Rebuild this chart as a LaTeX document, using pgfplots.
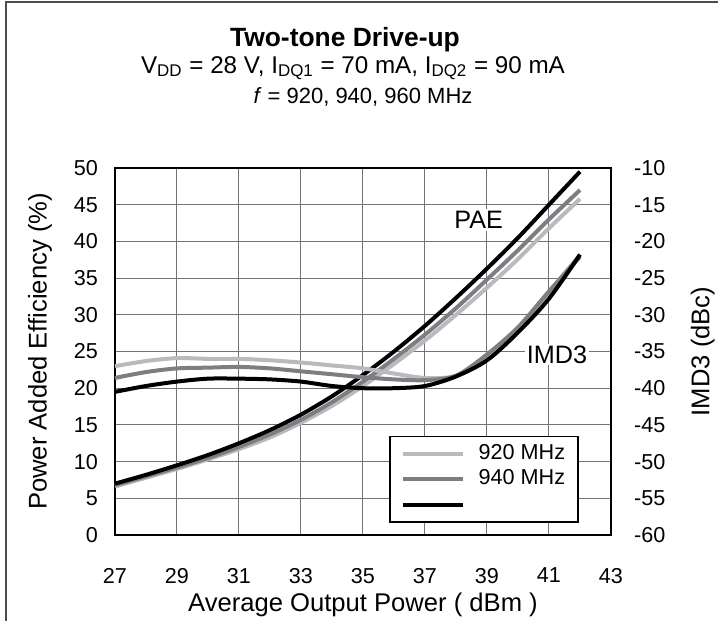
\documentclass[border=0pt]{standalone}
\usepackage{fontspec}
\setmainfont{Liberation Sans}
\usepackage{pgfplots}
\pgfplotsset{compat=1.18}

\definecolor{c920}{RGB}{186,186,190}
\definecolor{c940}{RGB}{126,126,130}
\definecolor{c960}{RGB}{0,0,0}
\newcommand{\fs}{\fontsize{10.8}{13}\selectfont}
\newcommand{\fl}{\fontsize{12.8}{15}\selectfont}

\begin{document}
\begin{tikzpicture}
\useasboundingbox (-57.5pt,-43pt) rectangle (301.5pt,267.5pt);
% outer frame (left and top edges only)
\draw[black!70, line width=0.8pt] (-54.5pt,-43pt) -- (-54.5pt,266.5pt) -- (301.5pt,266.5pt);

\begin{axis}[
    at={(0pt,0pt)}, anchor=south west,
    scale only axis,
    width=248pt, height=183.5pt,
    xmin=27, xmax=43, ymin=0, ymax=50,
    xtick={27,29,...,43}, ytick={0,5,...,50},
    major tick length=0pt,
    grid=major,
    grid style={black!55, line width=0.5pt},
    axis line style={line width=1.1pt},
    /pgf/number format/assume math mode=true,
    tick label style={font=\fs},
    xticklabel style={yshift=-13pt},
    yticklabel style={xshift=-5pt},
    xlabel={Average Output Power ( dBm )},
    ylabel={Power Added Efficiency (\%)},
    label style={font=\fl},
    xlabel style={at={(axis description cs:0.5,-0.19)}, anchor=center},
    ylabel style={at={(axis description cs:-0.151,0.5)}, anchor=center},
    legend style={at={(rel axis cs:0.552,0.0327)}, anchor=south west,
        draw=black, line width=0.9pt, font=\fs, fill=white,
        inner xsep=5.5pt, inner ysep=2.4pt, row sep=0.25pt,
        nodes={inner xsep=1pt, inner ysep=1pt, text height=8pt, text depth=2.5pt},
        /tikz/every odd column/.append style={column sep=6pt}},
    legend cell align=left,
    legend image code/.code={\draw[#1, line width=2pt] (0pt,0pt) -- (30pt,0pt);},
]
\addplot[c920, line width=2pt, smooth] coordinates {
(27,6.6) (28,7.8) (29,9.0) (30,10.3) (31,11.7) (32,13.3) (33,15.3) (34,17.6)
(35,20.3) (36,23.3) (37,26.5) (38,30.0) (39,33.7) (40,37.6) (41,41.8) (42,45.8)};
\addlegendentry{920 MHz}
\addplot[c940, line width=2pt, smooth] coordinates {
(27,6.8) (28,8.0) (29,9.2) (30,10.5) (31,12.0) (32,13.7) (33,15.7) (34,18.1)
(35,20.9) (36,24.0) (37,27.3) (38,30.9) (39,34.8) (40,38.8) (41,43.0) (42,47.0)};
\addlegendentry{940 MHz}
\addplot[c960, line width=2pt, smooth] coordinates {
(27,7.0) (28,8.2) (29,9.5) (30,10.9) (31,12.5) (32,14.3) (33,16.4) (34,18.9)
(35,21.8) (36,25.0) (37,28.5) (38,32.3) (39,36.3) (40,40.5) (41,45.0) (42,49.5)};
\addlegendentry{\phantom{960 MHz}}
\node[fill=white, inner sep=1pt, font=\fontsize{12.6}{15}\selectfont] at (axis cs:38.73,42.9) {PAE};
\end{axis}

\begin{axis}[
    at={(0pt,0pt)}, anchor=south west,
    scale only axis,
    width=248pt, height=183.5pt,
    xmin=27, xmax=43, ymin=-60, ymax=-10,
    ytick={-60,-55,...,-10},
    axis x line=none,
    axis y line*=right,
    major tick length=0pt,
    axis line style={line width=1.1pt},
    /pgf/number format/assume math mode=true,
    tick label style={font=\fs},
    yticklabel style={xshift=8pt},
    ylabel={IMD3 (dBc)},
    label style={font=\fl},
    ylabel style={at={(axis description cs:1.185,0.5)}, anchor=center},
]
\addplot[c920, line width=2pt, smooth] coordinates {
(27,-37.0) (28,-36.3) (29,-35.9) (30,-36.0) (31,-36.0) (32,-36.2) (33,-36.5) (34,-36.9)
(35,-37.3) (36,-38.0) (37,-38.6) (38,-38.3) (39,-35.6) (40,-32.2) (41,-26.9) (42,-21.8)};
\addplot[c940, line width=2pt, smooth] coordinates {
(27,-38.6) (28,-37.8) (29,-37.3) (30,-37.2) (31,-37.1) (32,-37.3) (33,-37.7) (34,-38.1)
(35,-38.5) (36,-38.8) (37,-38.9) (38,-38.3) (39,-35.4) (40,-31.7) (41,-26.8) (42,-22.1)};
\addplot[c960, line width=2pt, smooth] coordinates {
(27,-40.5) (28,-39.7) (29,-39.1) (30,-38.7) (31,-38.7) (32,-38.8) (33,-39.1) (34,-39.7)
(35,-40.0) (36,-40.0) (37,-39.7) (38,-38.4) (39,-36.2) (40,-32.4) (41,-27.8) (42,-21.8)};
\node[fill=white, inner sep=1pt, font=\fontsize{12.6}{15}\selectfont] at (axis cs:41.26,-35.4) {IMD3};
\end{axis}

\node[anchor=base, font=\fontsize{13.2}{15}\selectfont\bfseries] at (115pt,244.2pt) {Two-tone Drive-up};
\node[anchor=base, font=\fontsize{12.1}{14}\selectfont] at (119pt,230.9pt)
  {V\textsubscript{DD} = 28 V, I\textsubscript{DQ1} = 70 mA, I\textsubscript{DQ2} = 90 mA};
\node[anchor=base, font=\fontsize{11}{13}\selectfont] at (124pt,215.9pt) {\textit{f} = 920, 940, 960 MHz};
\end{tikzpicture}
\end{document}
